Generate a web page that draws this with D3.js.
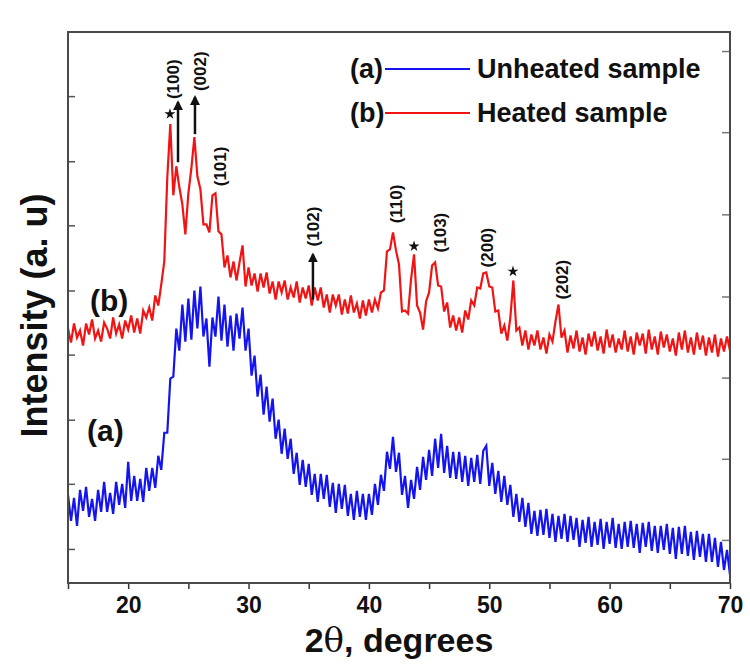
<!DOCTYPE html>
<html>
<head>
<meta charset="utf-8">
<script src="https://cdn.jsdelivr.net/npm/d3@7"></script>
<style>
  body { margin: 0; background: #fff; }
  text { font-family: Arial, "Liberation Sans", sans-serif; }
</style>
</head>
<body>
<div id="chart"></div>
<script>
// 2theta grid of the scans (degrees)
var angleStart = 15, angleEnd = 70, angleStep = 0.25;

// (b) heated sample, intensity (a.u.), one row per degree
var heated = [
  254, 240, 259, 245,
  252, 237, 259, 248,
  263, 244, 252, 241,
  260, 254, 244, 265,
  249, 258, 244, 262,
  253, 267, 250, 264,
  249, 272, 265, 275,
  262, 287, 277, 298,
  321, 405, 458, 387,
  416, 395, 378, 348,
  389, 414, 445, 406,
  393, 358, 358, 350,
  387, 389, 351, 348,
  315, 327, 305, 321,
  302, 320, 337, 296,
  315, 297, 309, 291,
  309, 295, 310, 289,
  301, 283, 301, 290,
  302, 283, 295, 285,
  301, 280, 295, 284,
  297, 277, 295, 282,
  295, 275, 288, 270,
  288, 277, 288, 268,
  283, 269, 287, 270,
  279, 264, 282, 267,
  283, 270, 283, 274,
  290, 292, 331, 333,
  350, 332, 318, 271,
  272, 269, 303, 328,
  277, 270, 253, 281,
  290, 317, 320, 297,
  296, 271, 280, 255,
  267, 252, 265, 250,
  272, 263, 282, 277,
  295, 294, 309, 310,
  296, 295, 271, 272,
  249, 257, 242, 265,
  302, 252, 255, 237,
  252, 233, 248, 237,
  252, 233, 245, 229,
  248, 241, 261, 278,
  245, 252, 230, 247,
  234, 252, 231, 245,
  228, 249, 236, 251,
  232, 246, 229, 253,
  235, 248, 230, 244,
  233, 252, 231, 246,
  228, 250, 237, 249,
  229, 253, 233, 246,
  228, 251, 235, 248,
  231, 244, 227, 250,
  233, 252, 230, 245,
  228, 250, 233, 247,
  227, 245, 230, 248,
  226, 244, 231, 246,
  232
];

// (a) unheated sample, intensity (a.u.)
var unheated = [
  88, 62, 85, 57,
  93, 72, 96, 66,
  84, 62, 93, 71,
  101, 71, 90, 69,
  101, 78, 99, 75,
  121, 82, 107, 82,
  104, 81, 115, 92,
  115, 95, 127, 113,
  150, 150, 204, 206,
  254, 232, 278, 241,
  284, 243, 292, 254,
  296, 246, 264, 216,
  265, 246, 286, 242,
  278, 236, 267, 232,
  269, 244, 275, 232,
  254, 207, 227, 186,
  208, 168, 196, 161,
  184, 144, 163, 129,
  154, 124, 144, 109,
  130, 98, 123, 96,
  119, 88, 109, 81,
  109, 84, 108, 76,
  100, 70, 99, 74,
  98, 67, 89, 63,
  92, 66, 89, 63,
  89, 68, 99, 78,
  108, 92, 131, 114,
  146, 111, 130, 88,
  107, 75, 103, 84,
  116, 93, 126, 103,
  133, 107, 144, 115,
  149, 110, 137, 105,
  131, 104, 131, 101,
  127, 97, 125, 101,
  128, 99, 132, 137,
  97, 120, 89, 112,
  81, 107, 78, 98,
  66, 89, 61, 85,
  56, 80, 49, 72,
  47, 73, 48, 74,
  45, 69, 41, 67,
  44, 69, 41, 67,
  43, 65, 36, 63,
  40, 66, 36, 61,
  38, 64, 34, 61,
  39, 65, 35, 59,
  34, 61, 36, 62,
  35, 59, 30, 60,
  36, 61, 32, 57,
  30, 57, 33, 59,
  29, 55, 24, 56,
  29, 57, 27, 51,
  23, 52, 26, 49,
  21, 49, 21, 45,
  16, 41, 13, 33,
  8
];

var xTicks = [15, 20, 25, 30, 35, 40, 45, 50, 55, 60, 65, 70];
var leftTicks = [34, 99, 163, 228, 292, 357, 421, 486];
var rightTicks = [43, 124, 205, 286, 368, 450, 531];

// peak annotations
var peakLabels = ["(100)", "(002)", "(101)", "(102)", "(110)", "(103)", "(200)", "(202)"];
var peakAngles = [23.72, 25.97, 27.63, 35.35, 42.25, 45.91, 49.81, 56.04];
var peakLevels = [483, 491, 396, 336, 359, 330, 315, 283];
var arrowAngles = [24.14, 25.55, 35.35];
var arrowFrom = [420, 448, 283];
var arrowTo = [480, 485, 328];
var starAngles = [23.47, 43.75, 51.97];
var starLevels = [468, 336, 311];

var series = [
  { name: "(a)", label: "Unheated sample", values: unheated, color: "#1414f0" },
  { name: "(b)", label: "Heated sample", values: heated, color: "#f01414" }
];

var margin = { top: 32, right: 20, bottom: 85, left: 68 };
var width = 750 - margin.left - margin.right;
var height = 668 - margin.top - margin.bottom;

var svg = d3.select("#chart")
  .append("svg")
    .attr("width", 750)
    .attr("height", 668)
  .append("g")
    .attr("transform", "translate(" + margin.left + "," + margin.top + ")");

var x = d3.scaleLinear().domain([angleStart, angleEnd]).range([0, width]);
var y = d3.scaleLinear().domain([0, 550]).range([height, 0]);

svg.append("clipPath").attr("id", "clip")
  .append("rect").attr("width", width).attr("height", height);

// traces
var line = d3.line()
  .x(function(d, i) { return x(angleStart + i * angleStep); })
  .y(function(d) { return y(d); });

svg.append("g").attr("clip-path", "url(#clip)")
  .selectAll("path")
  .data(series)
  .enter()
  .append("path")
    .attr("d", function(d) { return line(d.values); })
    .attr("fill", "none")
    .attr("stroke", function(d) { return d.color; })
    .attr("stroke-width", 2.2)
    .attr("stroke-linejoin", "miter");

// x axis
var xAxis = svg.append("g")
  .attr("transform", "translate(0," + height + ")")
  .call(d3.axisBottom(x)
    .tickValues(xTicks)
    .tickSize(6)
    .tickPadding(8)
    .tickFormat(function(d) { return d % 10 === 0 ? d : ""; }));
xAxis.select(".domain").remove();
xAxis.selectAll("line").attr("stroke", "#333").attr("stroke-width", 1.5);
xAxis.selectAll("text")
  .attr("font-size", 23)
  .attr("font-weight", "bold")
  .attr("font-family", "Arial, 'Liberation Sans', sans-serif")
  .attr("fill", "#111");

// left and right tick marks (no labels), pointing inwards
var yLeft = svg.append("g")
  .call(d3.axisLeft(y).tickValues(leftTicks).tickSize(-7).tickFormat(""));
yLeft.select(".domain").remove();
yLeft.selectAll("line").attr("stroke", "#555").attr("stroke-width", 1.5);

var yRight = svg.append("g")
  .attr("transform", "translate(" + width + ",0)")
  .call(d3.axisRight(y).tickValues(rightTicks).tickSize(-8).tickFormat(""));
yRight.select(".domain").remove();
yRight.selectAll("line").attr("stroke", "#777").attr("stroke-width", 1.5);

// frame
svg.append("rect")
  .attr("width", width)
  .attr("height", height)
  .attr("fill", "none")
  .attr("stroke", "#4a4a4a")
  .attr("stroke-width", 2);

// axis titles
svg.append("text")
  .attr("x", width / 2)
  .attr("y", height + 69)
  .attr("text-anchor", "middle")
  .attr("font-size", 34)
  .attr("font-weight", "bold")
  .attr("fill", "#111")
  .html('2<tspan font-weight="normal" font-family="DejaVu Serif">θ</tspan>, degrees');

svg.append("text")
  .attr("transform", "translate(-21," + (height / 2 + 8) + ") rotate(-90)")
  .attr("text-anchor", "middle")
  .attr("font-size", 36)
  .attr("font-weight", "bold")
  .attr("fill", "#111")
  .text("Intensity (a. u)");

// curve tags
svg.append("text").attr("x", 22).attr("y", y(272))
  .attr("font-size", 30).attr("font-weight", "bold").attr("fill", "#111").text("(b)");
svg.append("text").attr("x", 19).attr("y", y(142))
  .attr("font-size", 30).attr("font-weight", "bold").attr("fill", "#111").text("(a)");

// peak labels
svg.selectAll(".peak")
  .data(peakLabels)
  .enter()
  .append("text")
    .attr("class", "peak")
    .attr("transform", function(d, i) {
      return "translate(" + x(peakAngles[i]) + "," + y(peakLevels[i]) + ") rotate(-90)";
    })
    .attr("dy", "0.35em")
    .attr("font-size", 17)
    .attr("font-weight", "bold")
    .attr("fill", "#111")
    .text(function(d) { return d; });

// arrows
svg.append("defs").append("marker")
  .attr("id", "head")
  .attr("viewBox", "0 0 10 10")
  .attr("refX", 8).attr("refY", 5)
  .attr("markerWidth", 4).attr("markerHeight", 4)
  .attr("orient", "auto")
  .append("path").attr("d", "M0,0L10,5L0,10z").attr("fill", "#111");

svg.selectAll(".arrow")
  .data(arrowAngles)
  .enter()
  .append("line")
    .attr("class", "arrow")
    .attr("x1", function(d) { return x(d); })
    .attr("x2", function(d) { return x(d); })
    .attr("y1", function(d, i) { return y(arrowFrom[i]); })
    .attr("y2", function(d, i) { return y(arrowTo[i]); })
    .attr("stroke", "#111")
    .attr("stroke-width", 2.5)
    .attr("marker-end", "url(#head)");

// stars
svg.selectAll(".star")
  .data(starAngles)
  .enter()
  .append("path")
    .attr("class", "star")
    .attr("transform", function(d, i) { return "translate(" + x(d) + "," + y(starLevels[i]) + ")"; })
    .attr("d", d3.symbol(d3.symbolStar).size(38))
    .attr("fill", "#111");

// legend
var legend = svg.selectAll(".legend")
  .data(series)
  .enter()
  .append("g")
    .attr("class", "legend")
    .attr("transform", function(d, i) { return "translate(282," + (37 + i * 44) + ")"; });

legend.append("text")
  .attr("x", 0).attr("y", 0).attr("dy", "0.35em")
  .attr("font-size", 27).attr("font-weight", "bold").attr("fill", "#111")
  .text(function(d) { return d.name; });
legend.append("line")
  .attr("x1", 35).attr("x2", 120)
  .attr("stroke", function(d) { return d.color; })
  .attr("stroke-width", 2);
legend.append("text")
  .attr("x", 127).attr("y", 0).attr("dy", "0.35em")
  .attr("font-size", 27).attr("font-weight", "bold").attr("fill", "#111")
  .text(function(d) { return d.label; });
</script>
</body>
</html>
